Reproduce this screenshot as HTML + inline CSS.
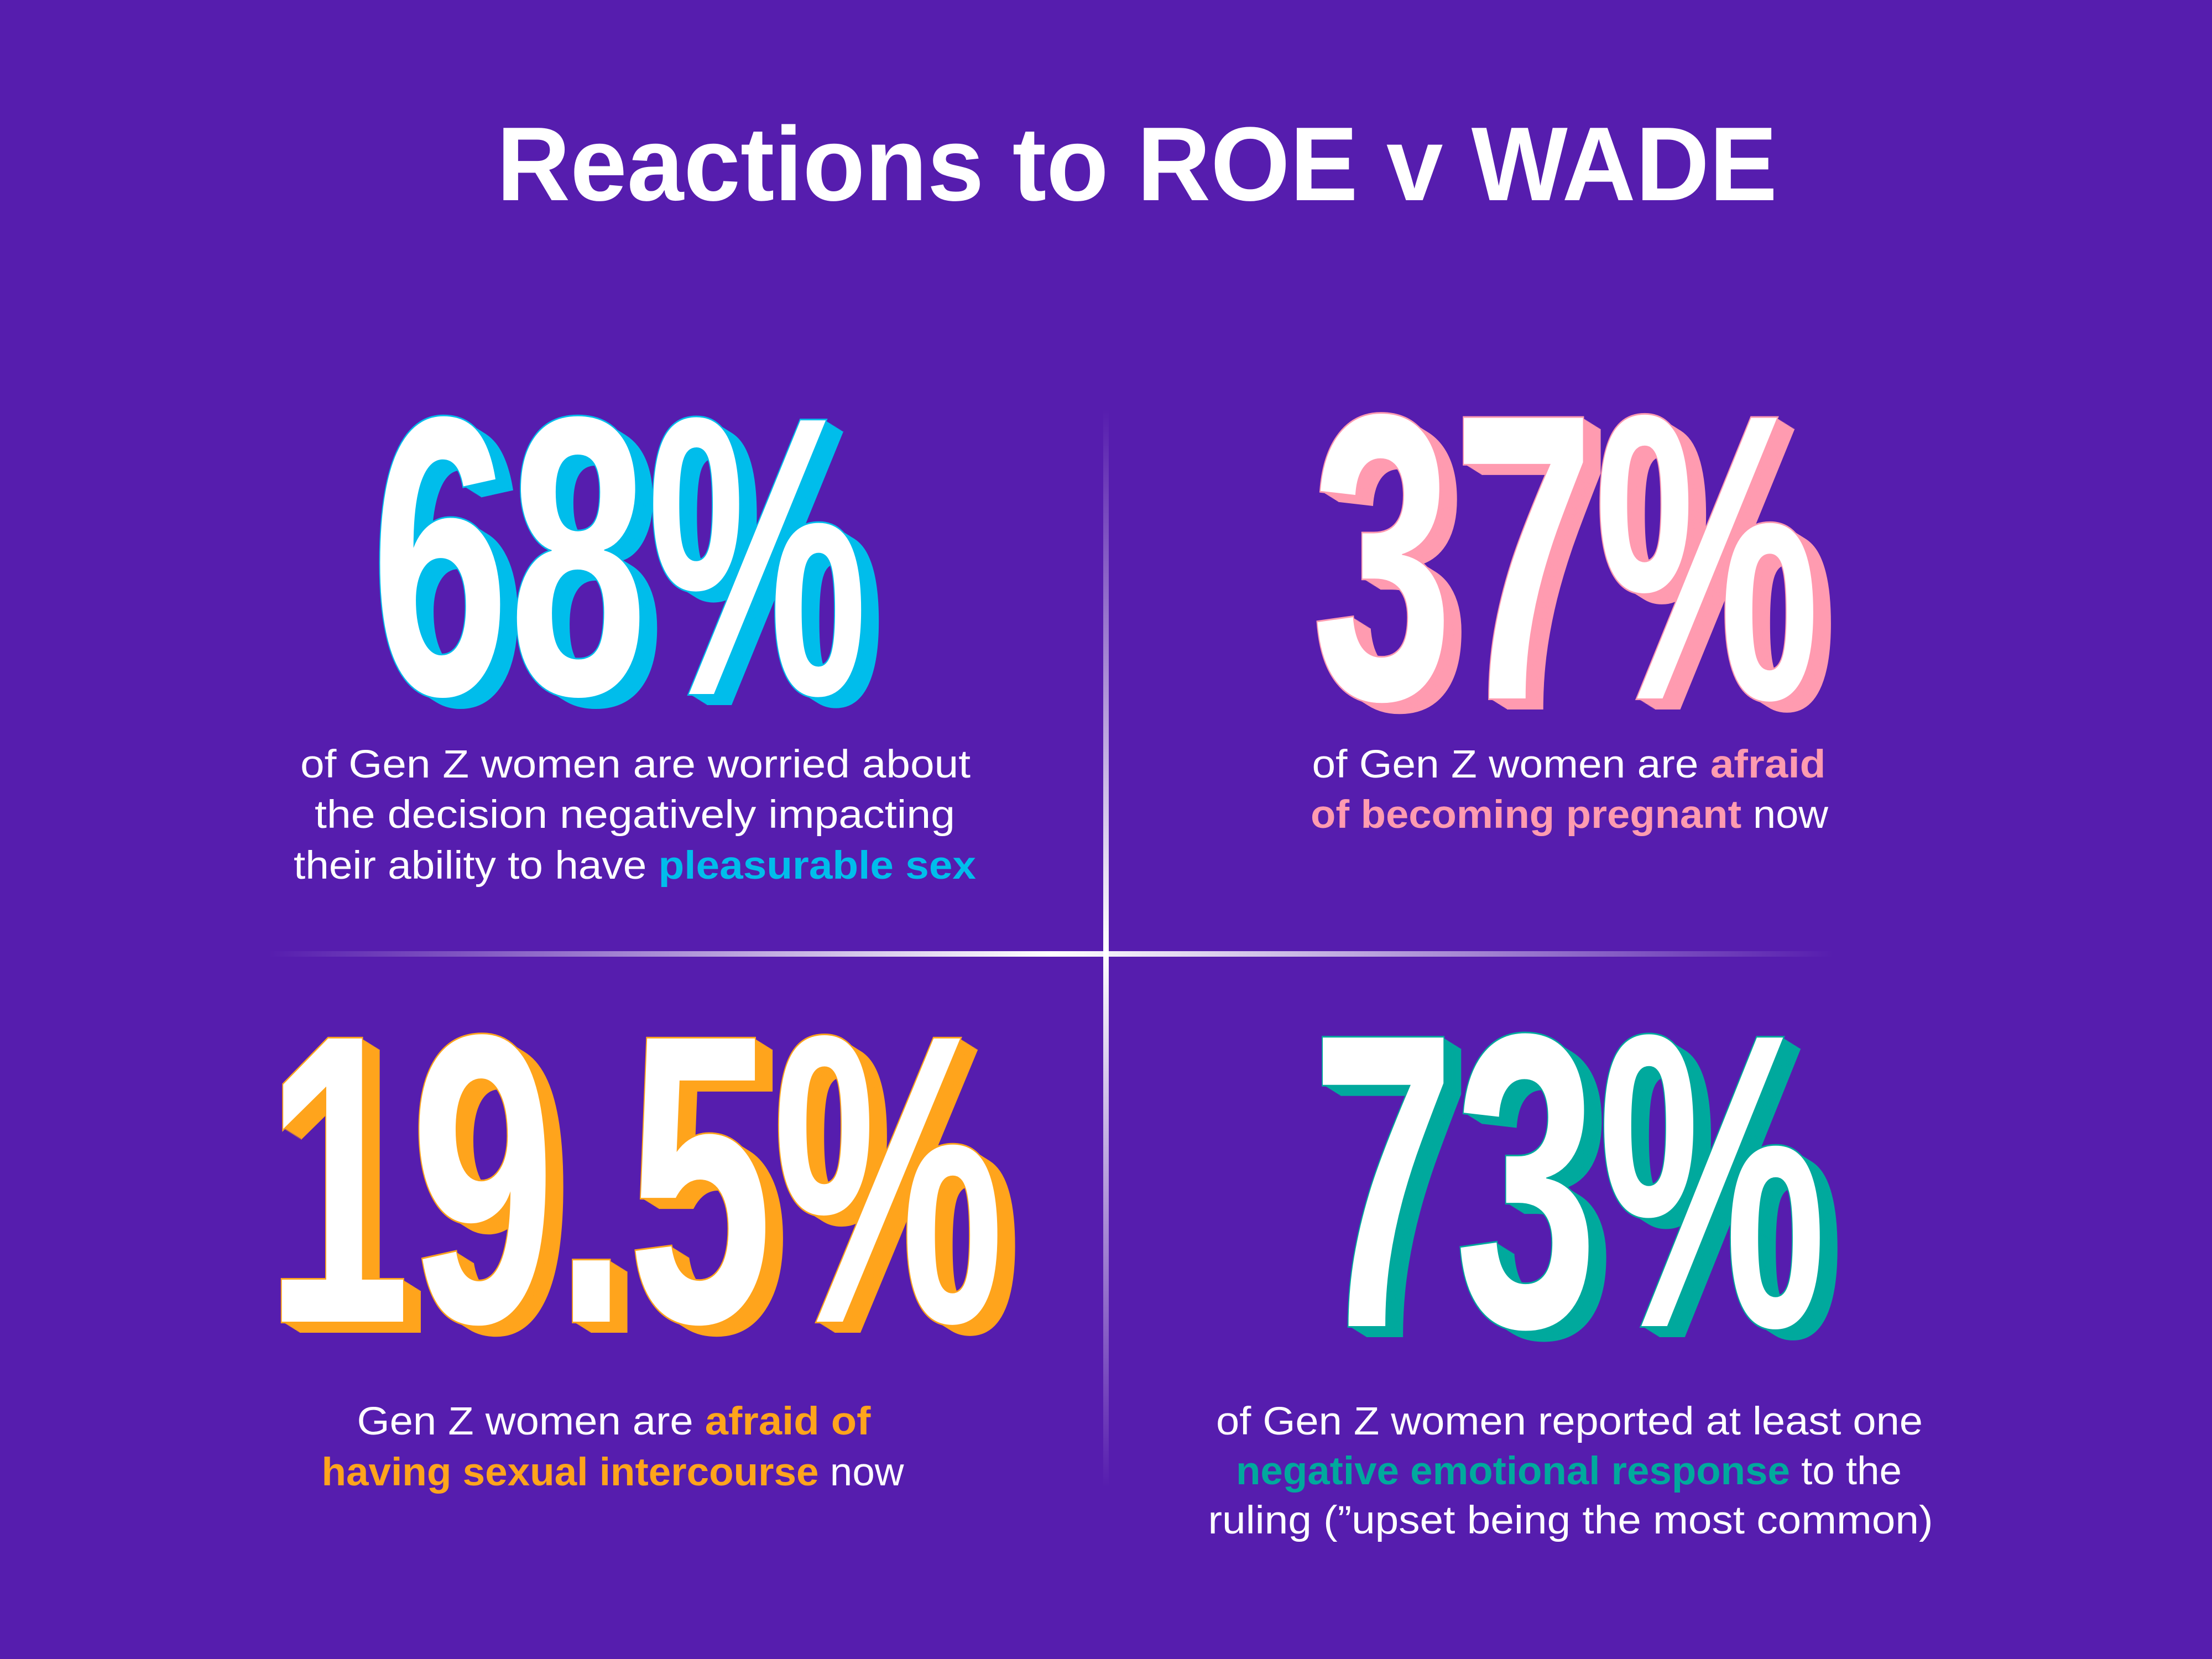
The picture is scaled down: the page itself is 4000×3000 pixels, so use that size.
<!DOCTYPE html>
<html><head><meta charset="utf-8"><style>
html,body{margin:0;padding:0;background:#561DAE;}
svg{display:block}
.b{font-family:"Liberation Sans",sans-serif;font-size:71px;fill:#fff;}
.k{font-weight:bold}
</style></head><body>
<svg id="s" width="4000" height="3000" viewBox="0 0 4000 3000" xmlns="http://www.w3.org/2000/svg">
<defs>
<linearGradient id="gv" x1="0" y1="0" x2="0" y2="1"><stop offset="0" stop-color="#fff" stop-opacity="0"/><stop offset="0.5" stop-color="#fff"/><stop offset="1" stop-color="#fff" stop-opacity="0"/></linearGradient>
<linearGradient id="gh" x1="0" y1="0" x2="1" y2="0"><stop offset="0" stop-color="#fff" stop-opacity="0"/><stop offset="0.5" stop-color="#fff"/><stop offset="1" stop-color="#fff" stop-opacity="0"/></linearGradient>
</defs>
<rect width="4000" height="3000" fill="#561DAE"/>
<text x="2056" y="362" text-anchor="middle" textLength="2316" lengthAdjust="spacingAndGlyphs" font-family="Liberation Sans,sans-serif" font-weight="bold" font-size="190" fill="#fff">Reactions to ROE v WADE</text>
<rect x="1995" y="740" width="10" height="1950" fill="url(#gv)"/>
<rect x="485" y="1720" width="2831" height="10" fill="url(#gh)"/>
<g id="nums"></g>
<g>
<text class="b" x="1149" y="1406" text-anchor="middle" textLength="1212" lengthAdjust="spacingAndGlyphs">of Gen Z women are worried about</text>
<text class="b" x="1148" y="1497" text-anchor="middle" textLength="1158" lengthAdjust="spacingAndGlyphs">the decision negatively impacting</text>
<text class="b" x="1148" y="1589" text-anchor="middle" textLength="1234" lengthAdjust="spacingAndGlyphs">their ability to have <tspan class="k" fill="#00BDEB">pleasurable sex</tspan></text>
</g>
<g>
<text class="b" x="2837" y="1406" text-anchor="middle" textLength="929" lengthAdjust="spacingAndGlyphs">of Gen Z women are <tspan class="k" fill="#FF9BB0">afraid</tspan></text>
<text class="b" x="2838" y="1497" text-anchor="middle" textLength="936" lengthAdjust="spacingAndGlyphs"><tspan class="k" fill="#FF9BB0">of becoming pregnant</tspan> now</text>
</g>
<g>
<text class="b" x="1110" y="2594" text-anchor="middle" textLength="929" lengthAdjust="spacingAndGlyphs">Gen Z women are <tspan class="k" fill="#FFA41C">afraid of</tspan></text>
<text class="b" x="1108" y="2686" text-anchor="middle" textLength="1053" lengthAdjust="spacingAndGlyphs"><tspan class="k" fill="#FFA41C">having sexual intercourse</tspan> now</text>
</g>
<g>
<text class="b" x="2838" y="2594" text-anchor="middle" textLength="1278" lengthAdjust="spacingAndGlyphs">of Gen Z women reported at least one</text>
<text class="b" x="2837" y="2684" text-anchor="middle" textLength="1204" lengthAdjust="spacingAndGlyphs"><tspan class="k" fill="#00A99D">negative emotional response</tspan> to the</text>
<text class="b" x="2840" y="2773" text-anchor="middle" textLength="1311" lengthAdjust="spacingAndGlyphs">ruling (”upset being the most common)</text>
</g>
</svg>
<script>
const labels = ["68%", "37%", "19.5%", "73%"];
const colors = ["#00BDEB", "#FF9BB0", "#FFA41C", "#00A99D"];
const boxes = [[671,740,898,515],[2372,735,919,528],[480,1857,1336,533],[2372,1855,931,543]];
const NS = "http://www.w3.org/2000/svg";
const g = document.getElementById("nums");
labels.forEach((lab, i) => {
  const [x, y, w, h] = boxes[i];
  const fs = h / 0.716;
  const grp = document.createElementNS(NS, "g");
  
  
  const mk = (dx, dy, fill, stroke) => {
    const t = document.createElementNS(NS, "text");
    t.setAttribute("x", x + dx); t.setAttribute("y", y + h + dy);
    t.setAttribute("font-family", "Liberation Sans, sans-serif");
    t.setAttribute("font-weight", "bold");
    t.setAttribute("font-size", fs);
    t.setAttribute("textLength", w);
    t.setAttribute("lengthAdjust", "spacingAndGlyphs");
    t.setAttribute("fill", fill);
    if (stroke) { t.setAttribute("stroke", stroke); t.setAttribute("stroke-width", "6"); t.setAttribute("paint-order", "stroke"); }
    t.textContent = lab;
    grp.appendChild(t);
  };
  for (let k = 16; k >= 1; k--) mk(32 * k / 16, 20 * k / 16, colors[i], null);
  mk(0, 0, "#fff", colors[i]);
  g.appendChild(grp);
});
</script>
</body></html>
